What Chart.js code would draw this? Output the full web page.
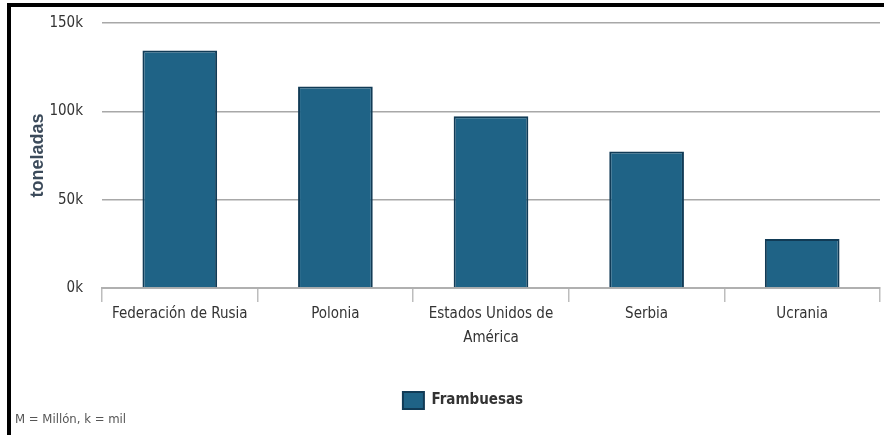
<!DOCTYPE html>
<html>
<head>
<meta charset="utf-8">
<script src="https://cdn.jsdelivr.net/npm/chart.js@4"></script>
<style>
  html, body { margin: 0; padding: 0; background: #fff; }
  #wrap { width: 884px; height: 435px; }
</style>
</head>
<body>
<div id="wrap"><canvas id="myChart" width="884" height="435"></canvas></div>
<script>
var paises = ["Federación de Rusia", "Polonia", ["Estados Unidos de", "América"], "Serbia", "Ucrania"];
var frambuesas = [134500, 114000, 97200, 77200, 27800];
var serie_nombre = "Frambuesas";
var eje_y_titulo = "toneladas";
var nota = "M = Millón, k = mil";

var narrow = "'Liberation Sans Narrow', 'DejaVu Sans Condensed', 'Arial Narrow', sans-serif";

// black frame along the top and left edge, plus the footnote
var marco = {
	id: 'marco',
	beforeDraw: function(chart) {
		var c = chart.ctx;
		c.save();
		c.fillStyle = '#fff';
		c.fillRect(0, 0, chart.width, chart.height);
		c.fillStyle = '#000';
		c.fillRect(7, 3, chart.width - 7, 4);
		c.fillRect(7, 3, 4, chart.height - 3);
		c.restore();
	},
	afterDraw: function(chart) {
		var c = chart.ctx;
		c.save();
		c.font = "13px " + narrow;
		c.fillStyle = '#555';
		c.textBaseline = 'middle';
		c.fillText(nota, 15, 420);
		c.restore();
	}
};

var ctx = document.getElementById("myChart");
var myChart = new Chart(ctx, {
	type: 'bar',
	plugins: [marco],
	data: {
		labels: paises,
		datasets: [{
			label: serie_nombre,
			data: frambuesas,
			backgroundColor: '#1f6386',
			borderColor: '#113b56',
			borderWidth: 2,
			barPercentage: 0.6,
			categoryPercentage: 0.8
		}]
	},
	options: {
		responsive: false,
		animation: false,
		layout: { padding: { left: 46, right: 4, top: 23, bottom: 16 } },
		plugins: {
			tooltip: { enabled: false },
			legend: {
				position: 'bottom',
				labels: {
					boxWidth: 21,
					boxHeight: 17,
					padding: 10,
					color: '#333',
					font: { family: narrow, size: 15, weight: 'bold' }
				}
			}
		},
		scales: {
			x: {
				afterFit: function(scale) { scale.height = 94; },
				border: { color: '#b0b0b0', width: 2 },
				grid: {
					offset: true,
					drawOnChartArea: false,
					drawTicks: true,
					tickLength: 14,
					color: '#bdbdbd',
					lineWidth: 1.5
				},
				ticks: {
					autoSkip: false,
					color: '#333',
					padding: 0,
					maxRotation: 0,
					font: { family: narrow, size: 15, lineHeight: 1.6 }
				}
			},
			y: {
				min: 0,
				max: 150000,
				// fixed width; drop the label overhang so the plot top sits on the padding
				afterFit: function(scale) {
					scale.width = 56;
					scale.paddingTop = 0;
				},
				border: { display: false },
				grid: {
					drawTicks: false,
					color: function(c) { return c.tick.value === 0 ? 'rgba(0,0,0,0)' : '#a8a8a8'; },
					lineWidth: 1.5
				},
				ticks: {
					stepSize: 50000,
					padding: 19,
					color: '#333',
					font: { family: narrow, size: 15 },
					callback: function(v) { return (v / 1000) + 'k'; }
				},
				title: {
					display: true,
					text: eje_y_titulo,
					color: '#3b4a5a',
					padding: { top: -19, bottom: 0 },
					font: { family: "'Liberation Sans', Arial, sans-serif", size: 18, weight: 'bold' }
				}
			}
		}
	}
});
</script>
</body>
</html>
